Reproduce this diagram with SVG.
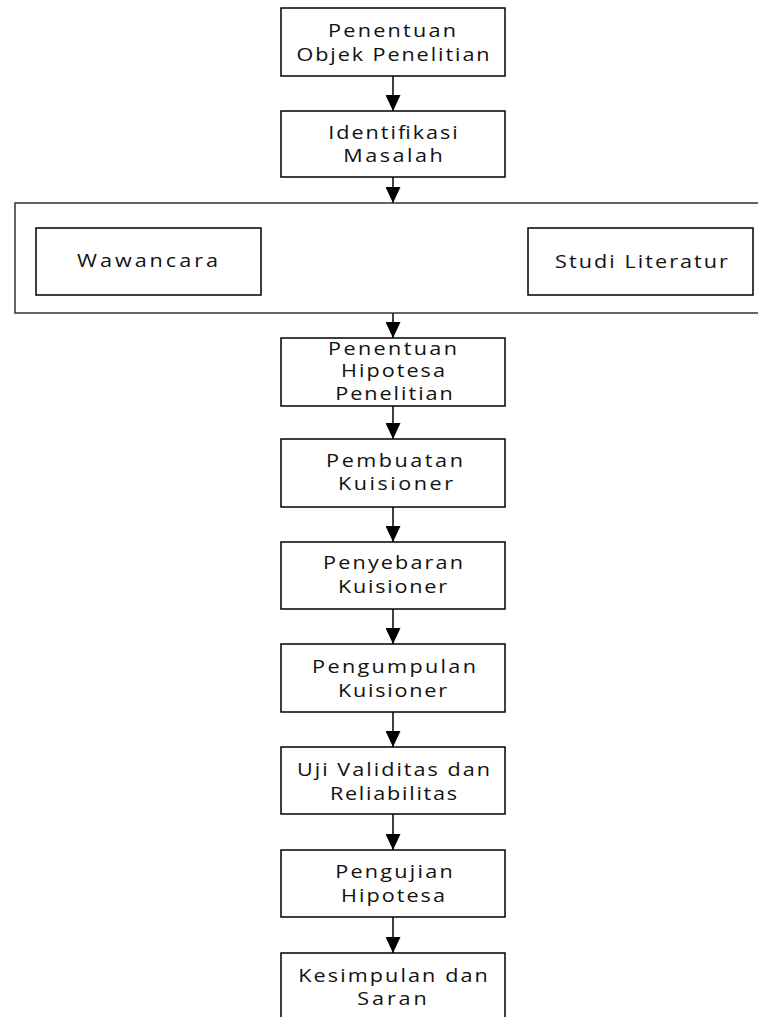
<svg xmlns="http://www.w3.org/2000/svg" width="758" height="1017" viewBox="0 0 758 1017">
<style>
.box{fill:#fff;stroke:#000;stroke-width:1.5}
.outer{fill:#fff;stroke:#333;stroke-width:1.5}
.t{font-family:"Open Sans","Liberation Sans",sans-serif;font-size:18px;fill:#111;text-anchor:middle}
.c{stroke:#000;stroke-width:1.5;fill:none}
</style>
<defs>
<marker id="ah" viewBox="0 0 16 15" refX="16" refY="7.5" markerWidth="16" markerHeight="15" markerUnits="userSpaceOnUse" orient="auto">
<path d="M0,0 L16,7.5 L0,15 Z" fill="#000"/>
</marker>
</defs>
<rect width="758" height="1017" fill="#fff"/>
<g id="connectors">
<line class="c" x1="393" y1="76" x2="393" y2="111" marker-end="url(#ah)"/>
<line class="c" x1="393" y1="177" x2="393" y2="203" marker-end="url(#ah)"/>
<line class="c" x1="393" y1="313" x2="393" y2="338" marker-end="url(#ah)"/>
<line class="c" x1="393" y1="406" x2="393" y2="439" marker-end="url(#ah)"/>
<line class="c" x1="393" y1="507" x2="393" y2="542" marker-end="url(#ah)"/>
<line class="c" x1="393" y1="609" x2="393" y2="644" marker-end="url(#ah)"/>
<line class="c" x1="393" y1="712" x2="393" y2="747" marker-end="url(#ah)"/>
<line class="c" x1="393" y1="814" x2="393" y2="850" marker-end="url(#ah)"/>
<line class="c" x1="393" y1="917" x2="393" y2="953" marker-end="url(#ah)"/>
</g>
<g id="n1"><rect class="box" x="281" y="8" width="224" height="68"/>
<text class="t" transform="matrix(1.2,0,0,1,392,37)" textLength="106.5" lengthAdjust="spacing">Penentuan</text>
<text class="t" transform="matrix(1.2,0,0,1,393,61)" textLength="161" lengthAdjust="spacing">Objek Penelitian</text></g>
<g id="n2"><rect class="box" x="281" y="111" width="224" height="66"/>
<text class="t" transform="matrix(1.2,0,0,1,393,139)" textLength="108" lengthAdjust="spacing">Identifikasi</text>
<text class="t" transform="matrix(1.2,0,0,1,393,162)" textLength="83" lengthAdjust="spacing">Masalah</text></g>
<g id="group"><rect class="outer" x="15" y="203" width="760" height="110"/>
<g id="n3a"><rect class="box" x="36" y="228" width="225" height="67"/>
<text class="t" transform="matrix(1.2,0,0,1,147.5,267)" textLength="117.5" lengthAdjust="spacing">Wawancara</text></g>
<g id="n3b"><rect class="box" x="528" y="228" width="225" height="67"/>
<text class="t" transform="matrix(1.2,0,0,1,641.5,268)" textLength="144" lengthAdjust="spacing">Studi Literatur</text></g></g>
<g id="n4"><rect class="box" x="281" y="338" width="224" height="68"/>
<text class="t" transform="matrix(1.2,0,0,1,392.5,355)" textLength="107.5" lengthAdjust="spacing">Penentuan</text>
<text class="t" transform="matrix(1.2,0,0,1,393,377)" textLength="86.5" lengthAdjust="spacing">Hipotesa</text>
<text class="t" transform="matrix(1.2,0,0,1,394,400)" textLength="98" lengthAdjust="spacing">Penelitian</text></g>
<g id="n5"><rect class="box" x="281" y="439" width="224" height="68"/>
<text class="t" transform="matrix(1.2,0,0,1,394.5,467)" textLength="114" lengthAdjust="spacing">Pembuatan</text>
<text class="t" transform="matrix(1.2,0,0,1,395.5,490)" textLength="96" lengthAdjust="spacing">Kuisioner</text></g>
<g id="n6"><rect class="box" x="281" y="542" width="224" height="67"/>
<text class="t" transform="matrix(1.2,0,0,1,393,569)" textLength="116.5" lengthAdjust="spacing">Penyebaran</text>
<text class="t" transform="matrix(1.2,0,0,1,392.5,593)" textLength="91" lengthAdjust="spacing">Kuisioner</text></g>
<g id="n7"><rect class="box" x="281" y="644" width="224" height="68"/>
<text class="t" transform="matrix(1.2,0,0,1,394,673)" textLength="136.5" lengthAdjust="spacing">Pengumpulan</text>
<text class="t" transform="matrix(1.2,0,0,1,392.5,697)" textLength="91" lengthAdjust="spacing">Kuisioner</text></g>
<g id="n8"><rect class="box" x="281" y="747" width="224" height="67"/>
<text class="t" transform="matrix(1.2,0,0,1,393.5,776)" textLength="161" lengthAdjust="spacing">Uji Validitas dan</text>
<text class="t" transform="matrix(1.2,0,0,1,393.5,800)" textLength="106" lengthAdjust="spacing">Reliabilitas</text></g>
<g id="n9"><rect class="box" x="281" y="850" width="224" height="67"/>
<text class="t" transform="matrix(1.2,0,0,1,394,878)" textLength="98" lengthAdjust="spacing">Pengujian</text>
<text class="t" transform="matrix(1.2,0,0,1,393,902)" textLength="86.5" lengthAdjust="spacing">Hipotesa</text></g>
<g id="n10"><rect class="box" x="281" y="953" width="224" height="80"/>
<text class="t" transform="matrix(1.2,0,0,1,393,982)" textLength="158" lengthAdjust="spacing">Kesimpulan dan</text>
<text class="t" transform="matrix(1.2,0,0,1,392,1005)" textLength="58" lengthAdjust="spacing">Saran</text></g>
</svg>
